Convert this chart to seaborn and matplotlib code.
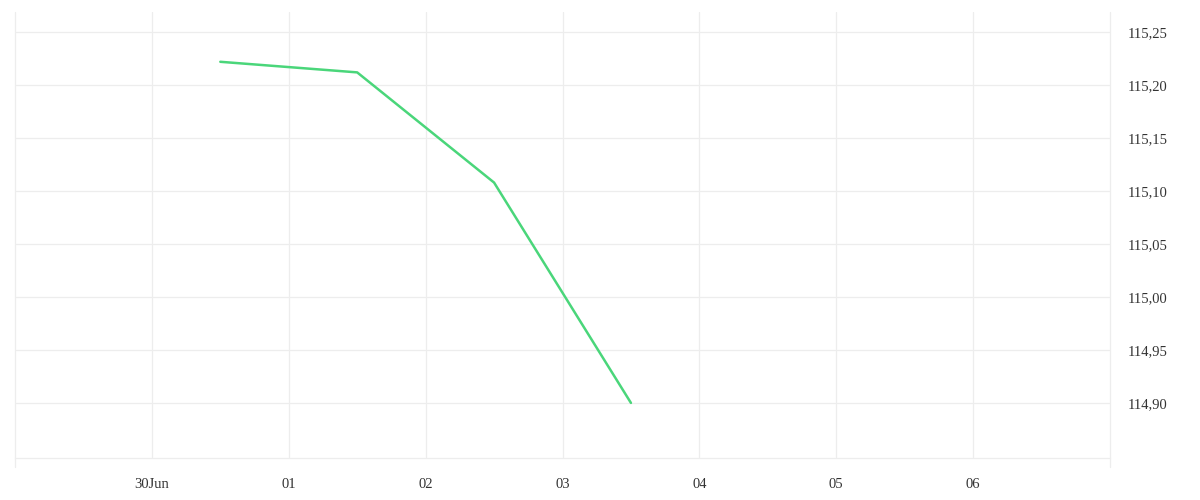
import matplotlib
matplotlib.use("Agg")
import matplotlib.pyplot as plt
import matplotlib.dates as mdates
import matplotlib.ticker as mticker
import seaborn as sns
import pandas as pd

dates = ["2023-06-30 12:00", "2023-07-01 12:00", "2023-07-02 12:00", "2023-07-03 12:00"]
values = [115.222, 115.212, 115.108, 114.900]
x_ticks = ["2023-06-30", "2023-07-01", "2023-07-02", "2023-07-03", "2023-07-04", "2023-07-05", "2023-07-06"]
x_tick_labels = ["30Jun", "01", "02", "03", "04", "05", "06"]
y_ticks = [114.90, 114.95, 115.00, 115.05, 115.10, 115.15, 115.20, 115.25]

df = pd.DataFrame({"date": pd.to_datetime(dates), "value": values})

sns.set_style("white")
plt.rcParams["font.family"] = ["Liberation Serif", "DejaVu Serif"]

fig = plt.figure(figsize=(12, 5), dpi=100)
ax = fig.add_axes([15/1200, 1 - 458/500, (1110 - 15)/1200, (458 - 12)/500])

grid_c = "#ededed"
sns.lineplot(data=df, x="date", y="value", ax=ax, color="#4ad67a", linewidth=1.8)

ax.set_xlim(pd.Timestamp("2023-06-29"), pd.Timestamp("2023-07-07"))
ax.set_ylim(114.848, 115.269)

ax.set_xticks(pd.to_datetime(x_ticks))
ax.set_xticklabels(x_tick_labels)
ax.set_yticks(y_ticks)
ax.yaxis.set_major_formatter(mticker.FuncFormatter(lambda v, p: f"{v:.2f}".replace(".", ",")))
ax.yaxis.tick_right()

ax.grid(True, color=grid_c, linewidth=0.9)
ax.set_xlabel("")
ax.set_ylabel("")

for s in ["top", "left", "right"]:
    ax.spines[s].set_visible(False)
ax.spines["bottom"].set_color(grid_c)
ax.spines["bottom"].set_linewidth(0.9)

for xx in (0, 1):
    ax.plot([xx, xx], [-9/446, 1], transform=ax.transAxes, color=grid_c, linewidth=0.9, clip_on=False)

ax.tick_params(axis="x", length=6.5, width=0.7, color=grid_c, pad=8, labelsize=10.5, labelcolor="#333333")
ax.tick_params(axis="y", length=0, pad=13, labelsize=10.5, labelcolor="#333333", right=False, left=False)

fig.savefig("out.png", dpi=100, facecolor="white")
